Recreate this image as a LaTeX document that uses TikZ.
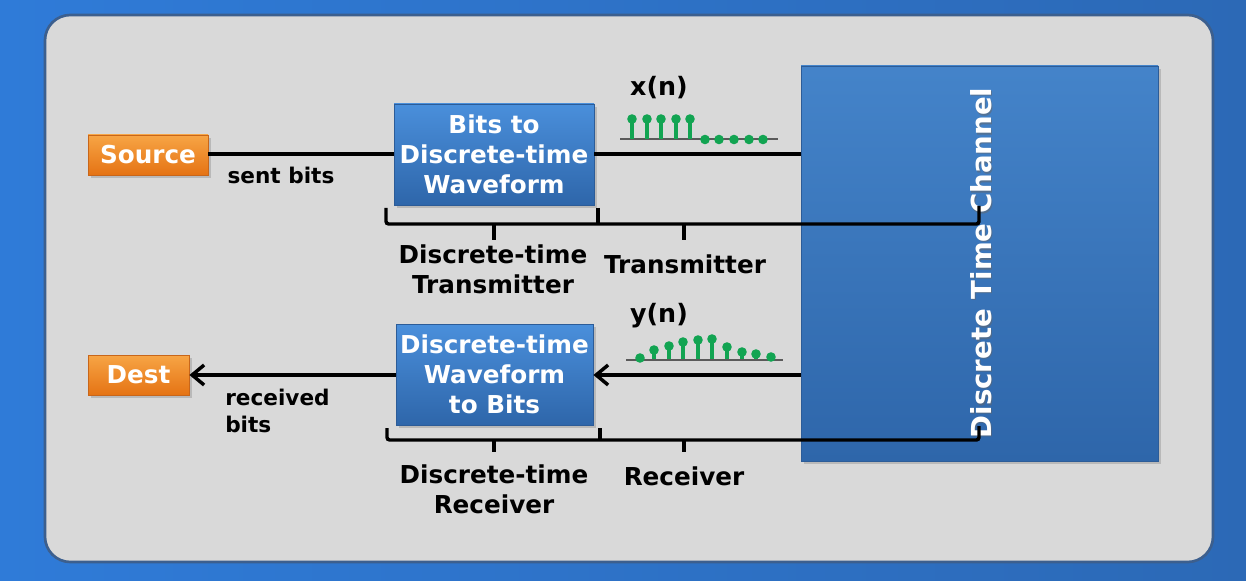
\documentclass[tikz,border=0pt]{standalone}
\usepackage{fontspec}
\setmainfont{DejaVu Sans}
\usetikzlibrary{arrows.meta,shadows,calc}
\definecolor{bgL}{HTML}{2F7BD8}
\definecolor{bgR}{HTML}{2C69B6}
\definecolor{panel}{HTML}{D9D9D9}
\definecolor{panelb}{HTML}{3C5F8E}
\definecolor{bluetop}{HTML}{4A8FDB}
\definecolor{bluebot}{HTML}{2E66AA}
\definecolor{bluedge}{HTML}{2C5C98}
\definecolor{orgtop}{HTML}{F7A545}
\definecolor{orgbot}{HTML}{E57314}
\definecolor{orgedge}{HTML}{C8661A}
\definecolor{stemg}{HTML}{12A452}
\definecolor{basel}{HTML}{5A5A5A}
\tikzset{
  orangebox/.style={draw=orgedge, line width=0.6pt, top color=orgtop, bottom color=orgbot,
    text=white, font=\fontsize{18.5}{22}\selectfont\bfseries, inner sep=0pt,
    drop shadow={shadow xshift=2pt, shadow yshift=-2pt, opacity=0.35}},
  bluebox/.style={draw=bluedge, line width=0.6pt, top color=bluetop, bottom color=bluebot,
    text=white, font=\fontsize{18.5}{22.5}\selectfont\bfseries, align=center, inner sep=0pt,
    drop shadow={shadow xshift=2pt, shadow yshift=-2pt, opacity=0.35}},
  conn/.style={line width=3pt, draw=black},
  brace/.style={line width=2.6pt, draw=black, rounded corners=2pt},
  lbl/.style={font=\fontsize{18.5}{22.5}\selectfont\bfseries, align=center, inner sep=0pt},
  slbl/.style={font=\fontsize{16.2}{20.2}\selectfont\bfseries, inner sep=0pt},
  barb/.style={-{Straight Barb[length=9pt,width=15pt,line width=2.6pt]}},
}
\begin{document}
\begin{tikzpicture}[x=0.75pt,y=-0.75pt]
\useasboundingbox (0,0) rectangle (1246,581);
% background
\shade[left color=bgL, right color=bgR] (0,0) rectangle (1246,581);
\fill[panel, draw=panelb, line width=2pt, rounded corners=19pt] (45,15) rectangle (1213,562);

% channel
\node[bluebox, minimum width=357*0.75pt, minimum height=395*0.75pt, top color=bluetop!92!black, bottom color=bluebot] (chan) at (979.5,263.5) {};
\node[rotate=90, text=black!60, opacity=0.5, font=\fontsize{20.7}{24}\selectfont\bfseries, inner sep=0pt] (chanshadow) at (982.5,264.5) {Discrete Time Channel};
\node[rotate=90, text=white, font=\fontsize{20.7}{24}\selectfont\bfseries, inner sep=0pt] (chantext) at (981,263) {Discrete Time Channel};

% boxes
\node[orangebox, minimum width=120*0.75pt, minimum height=40*0.75pt] (src) at (148,155) {Source};
\node[orangebox, minimum width=101*0.75pt, minimum height=40*0.75pt] (dst) at (138.5,375) {Dest};
\node[bluebox, minimum width=200*0.75pt, minimum height=101*0.75pt] (tx) at (494,154.5) {Bits to\\Discrete-time\\Waveform};
\node[bluebox, minimum width=197*0.75pt, minimum height=101*0.75pt] (rx) at (494.5,374.5) {Discrete-time\\Waveform\\to Bits};

% connectors
\draw[conn] (src.east |- 0,154) -- (tx.west |- 0,154);
\draw[conn] (tx.east |- 0,154) -- (chan.west |- 0,154);
\draw[conn, barb] (chan.west |- 0,375) -- (rx.east |- 0,375);
\draw[conn, barb] (rx.west |- 0,375) -- (dst.east |- 0,375);

% braces top
\coordinate (ta) at (386,208);
\coordinate (tb) at (598,208);
\coordinate (tc) at (979,206);
\coordinate (tt1) at (494,240);
\coordinate (tt2) at (684,240);
\draw[brace] (ta) -- (ta |- 0,224) -- (tc |- 0,224) -- (tc);
\draw[brace] (tb) -- (tb |- 0,224);
\draw[line width=2.6pt] (tt1 |- 0,223) -- (tt1);
\draw[line width=2.6pt] (tt2 |- 0,223) -- (tt2);
% braces bottom
\coordinate (ba) at (387,428);
\coordinate (bb) at (600,428);
\coordinate (bc) at (979,426);
\coordinate (bt1) at (494,452);
\coordinate (bt2) at (684,452);
\draw[brace] (ba) -- (ba |- 0,440) -- (bc |- 0,440) -- (bc);
\draw[brace] (bb) -- (bb |- 0,440);
\draw[line width=2.6pt] (bt1 |- 0,439) -- (bt1);
\draw[line width=2.6pt] (bt2 |- 0,439) -- (bt2);

% labels
\node[slbl] (sent) at (281,175) {sent bits};
\node[slbl, align=left, anchor=north west, font=\fontsize{16.2}{20.2}\selectfont\bfseries] (recv) at (225,389) {received\\bits};
\node[lbl] (dtt) at (493,269) {Discrete-time\\Transmitter};
\node[lbl] (trl) at (685,264) {Transmitter};
\node[lbl] (dtr) at (494,489) {Discrete-time\\Receiver};
\node[lbl] (rcl) at (684,476) {Receiver};
\node[lbl, font=\fontsize{19}{22}\selectfont\bfseries] (xn) at (659,88) {x(n)};
\node[lbl, font=\fontsize{19}{22}\selectfont\bfseries] (yn) at (659,316) {y(n)};

% x(n) stems
\draw[basel, line width=1.5pt] (620,139.5) -- (778,139.5);
\foreach \x in {632,647,661,676,690}{
  \draw[stemg, line width=3pt] (\x,139) -- (\x,119);
  \fill[stemg] (\x,119) circle (3.6pt);
}
\foreach \x in {705,719,734,749,763}{
  \fill[stemg] (\x,139.5) circle (3.6pt);
}
% y(n) stems
\draw[basel, line width=1.5pt] (626,359.5) -- (783,359.5);
\foreach \x/\y in {640/358,654/350,669/346,683/342,698/340,712/339,727/347,742/352,756/354,771/357}{
  \draw[stemg, line width=3pt] (\x,359) -- (\x,\y);
  \fill[stemg] (\x,\y) circle (3.6pt);
}
\end{tikzpicture}
\end{document}
